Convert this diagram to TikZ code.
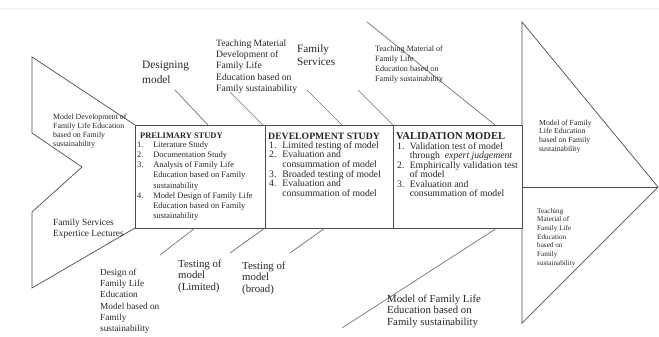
\documentclass[tikz,border=0pt]{standalone}
\usepackage{fontspec}
\setmainfont{Liberation Serif}

\newcommand{\fsz}[2]{\fontsize{#1}{#2}\selectfont}
\newcommand{\lines}[1]{\begin{tabular}[t]{@{}l@{}}#1\end{tabular}}
\newcommand{\steps}[2]{\begin{tabular}[t]{@{}l@{\hspace{#1}}l@{}}#2\end{tabular}}

\tikzset{
    frame/.style={draw=black!70, line width=0.6pt},
    bone/.style={draw=black!55, line width=0.6pt},
    lbl/.style={inner sep=0pt, anchor=base west, text=black!85},
}

\begin{document}
\begin{tikzpicture}[x=0.03cm, y=-0.03cm]
    \useasboundingbox (0,0) rectangle (659,337);
    \draw [black!6] (0,8) -- (659,8);

    % box corners
    \coordinate (A) at (135,125);
    \coordinate (B) at (265,125);
    \coordinate (C) at (393,125);
    \coordinate (D) at (522,125);
    \coordinate (Ab) at (135,228);
    \coordinate (Bb) at (265,228);
    \coordinate (Cb) at (393,228);
    \coordinate (Db) at (522,228);
    \coordinate (tip) at (658,187);

    % tail, boxes, head
    \draw [frame] (A) -- (32,57) -- (32,133) -- (82,167) -- (32,212) -- (32,288) -- (Ab);
    \draw [frame] (A) rectangle (Db);
    \draw [frame] (B) -- (Bb);
    \draw [frame] (C) -- (Cb);
    \draw [frame] (D) -- (522,22) -- (tip) -- (522,323) -- (Db);
    \draw [frame] (522,187) -- (tip);

    % upper bones
    \draw [bone] (175,90) -- (208,125);
    \draw [bone] (230,92) -- (263,125);
    \draw [bone] (307,90) -- (342,125);
    \draw [bone] (358,90) -- (C);
    \draw [bone] (367,22) -- (495,125);
    % lower bones
    \draw [bone] (160,255) -- (195,228);
    \draw [bone] (230,253) -- (Bb);
    \draw [bone] (290,253) -- (325,228);
    \draw [bone] (342,328) -- (497,228);

    % labels round the bones
    \node [lbl, font=\fsz{9.7}{12}] (designing) at (142,69) {\lines{Designing\\model}};
    \node [lbl, font=\fsz{8.2}{9.6}] (tmdev) at (216,46.5) {\lines{Teaching Material\\Development of\\Family Life\\Education based on\\Family sustainability}};
    \node [lbl, font=\fsz{9.6}{10.5}] (famserv) at (297,53) {\lines{Family\\Services}};
    \node [lbl, font=\fsz{6.9}{8.7}] (tmof) at (375,51) {\lines{Teaching Material of\\Family Life\\Education based on\\Family sustainability}};
    \node [lbl, font=\fsz{6.7}{7.7}] (modeldev) at (53,119) {\lines{Model Development of\\Family Life Education\\based on Family\\sustainability}};
    \node [lbl, font=\fsz{8}{9.4}] (expert) at (53,225) {\lines{Family Services\\Expertice Lectures}};
    \node [lbl, font=\fsz{7.9}{9.7}] (designof) at (100,275) {\lines{Design of\\Family Life\\Education\\Model based on\\Family\\sustainability}};
    \node [lbl, font=\fsz{9.2}{10}] (testlim) at (178,267) {\lines{Testing of\\model\\(Limited)}};
    \node [lbl, font=\fsz{9.2}{10}] (testbroad) at (242,269) {\lines{Testing of\\model\\(broad)}};
    \node [lbl, font=\fsz{9.2}{10}] (modelfle) at (387,302) {\lines{Model of Family Life\\Education based on\\Family sustainability}};
    \node [lbl, font=\fsz{6.6}{7.4}] (outmodel) at (539,125) {\lines{Model of Family\\Life Education\\based on Family\\sustainability}};
    \node [lbl, font=\fsz{6.1}{7.4}] (outteach) at (537,213) {\lines{Teaching\\Material of\\Family Life\\Education\\based on\\Family\\sustainability}};

    % box contents
    \node [lbl, font=\fsz{7.2}{8}\bfseries] (prelimhead) at (140,138.3) {PRELIMARY STUDY};
    \node [lbl, font=\fsz{7.2}{8.7}] (prelimlist) at (137,147.3) {\steps{8.3pt}{%
        1. & Literature Study\\
        2. & Documentation Study\\
        3. & Analysis of Family Life\\
           & Education based on Family\\
           & sustainability\\
        4. & Model Design of Family Life\\
           & Education based on Family\\
           & sustainability}};

    \node [lbl, font=\fsz{8.3}{9}\bfseries] (develhead) at (268,139.3) {DEVELOPMENT STUDY};
    \node [lbl, font=\fsz{8.3}{7.9}] (devellist) at (269,148.3) {\steps{5pt}{%
        1. & Limited testing of model\\
        2. & Evaluation and\\
           & consummation of model\\
        3. & Broaded testing of model\\
        4. & Evaluation and\\
           & consummation of model}};

    \node [lbl, font=\fsz{9}{10}\bfseries] (validhead) at (396,139.5) {VALIDATION MODEL};
    \node [lbl, font=\fsz{8.3}{8}] (validlist) at (397,149) {\steps{4.5pt}{%
        1. & Validation test of model\\
           & through \ \textit{expert judgement}\\
        2. & Emphirically validation test\\
           & of model\\
        3. & Evaluation and\\
           & consummation of model}};
\end{tikzpicture}
\end{document}
